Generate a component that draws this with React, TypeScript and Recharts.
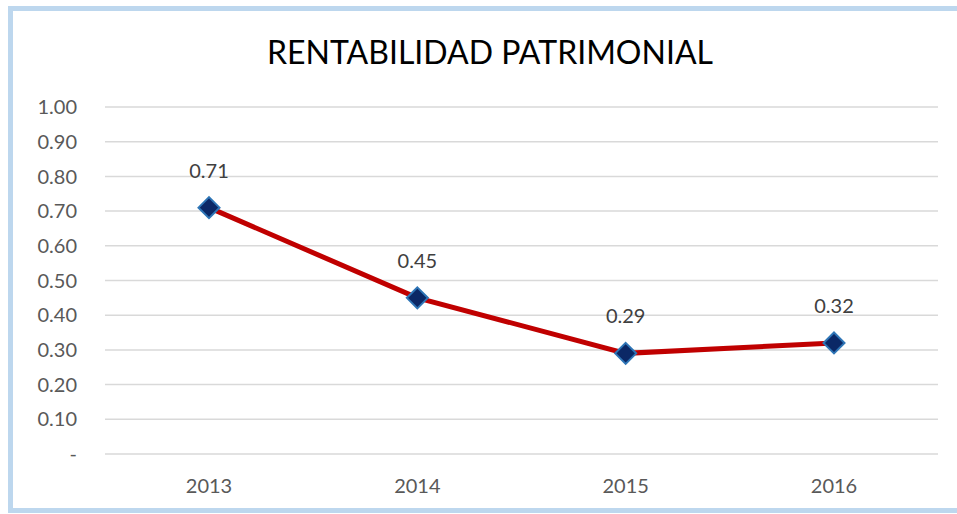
import { LineChart, Line, CartesianGrid, XAxis, YAxis, LabelList } from "recharts"

const years = ["2013", "2014", "2015", "2016"]
const rentabilidad = [0.71, 0.45, 0.29, 0.32]
const yTicks = [0, 0.1, 0.2, 0.3, 0.4, 0.5, 0.6, 0.7, 0.8, 0.9, 1.0]

const data = years.map((y, i) => ({ year: y, value: rentabilidad[i] }))

const FONT = "Lato, 'Open Sans', sans-serif"

function Diamond(props: any) {
  const { cx, cy } = props
  if (cx == null || cy == null) return null
  const r = 10.5
  return (
    <path
      d={`M${cx},${cy - r} L${cx + r},${cy} L${cx},${cy + r} L${cx - r},${cy} Z`}
      fill="#0B2866"
      stroke="#2E75B6"
      strokeWidth={2}
    />
  )
}

export default function App() {
  return (
    <div style={{ position: "absolute", left: 0, top: 0, width: 957, height: 514, background: "#fff", overflow: "hidden" }}>
      {/* chart frame */}
      <div
        style={{
          position: "absolute",
          left: 8,
          top: 6,
          width: 980,
          height: 497,
          border: "5px solid #BDD7EE",
          boxSizing: "content-box",
        }}
      />
      <div
        style={{
          position: "absolute",
          left: 490,
          top: 32,
          transform: "translateX(-50%)",
          fontFamily: FONT,
          fontSize: 32,
          color: "#000",
          whiteSpace: "nowrap",
          lineHeight: "40px",
        }}
      >
        RENTABILIDAD PATRIMONIAL
      </div>
      <div style={{ position: "absolute", left: 0, top: 0 }}>
        <LineChart width={957} height={514} data={data} margin={{ top: 107, right: 19, bottom: 20, left: 0 }}>
          <CartesianGrid stroke="#D9D9D9" strokeWidth={1.5} vertical={false} />
          <XAxis
            dataKey="year"
            axisLine={false}
            tickLine={false}
            tickSize={0}
            tickMargin={25}
            height={40}
            padding={{ left: 104, right: 104 }}
            tick={{ fill: "#595959", fontSize: 20, fontFamily: FONT }}
          />
          <YAxis
            width={105}
            domain={[0, 1]}
            ticks={yTicks}
            interval={0}
            axisLine={false}
            tickLine={false}
            tickSize={0}
            tickMargin={28}
            tickFormatter={(v: number) => (v === 0 ? "-" : v.toFixed(2))}
            tick={{ fill: "#595959", fontSize: 20, fontFamily: FONT }}
          />
          <Line
            type="linear"
            dataKey="value"
            stroke="#C00000"
            strokeWidth={5}
            dot={<Diamond />}
            activeDot={false}
            isAnimationActive={false}
          >
            <LabelList
              dataKey="value"
              position="top"
              offset={30}
              formatter={(v: any) => Number(v).toFixed(2)}
              style={{ fill: "#404040", fontSize: 20, fontFamily: FONT }}
            />
          </Line>
        </LineChart>
      </div>
    </div>
  )
}
